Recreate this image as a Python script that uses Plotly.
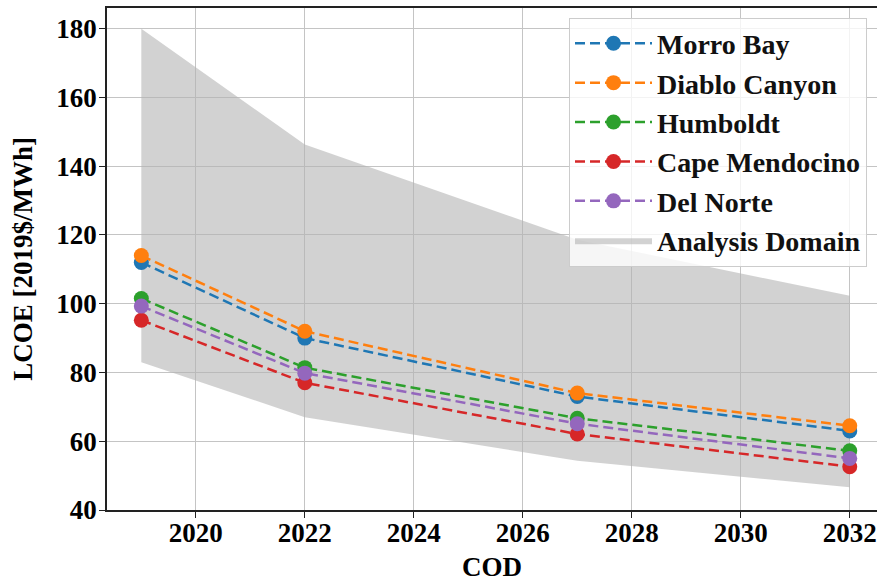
import plotly.graph_objects as go

years = [2019, 2022, 2027, 2032]

morro_bay = [112, 90, 73, 63]
diablo_canyon = [114, 92, 74, 64.5]
humboldt = [101.5, 81.4, 66.7, 57.2]
cape_mendocino = [95.2, 77, 62.1, 52.6]
del_norte = [99.3, 79.8, 65.1, 55]

domain_upper = [180, 146.3, 118.6, 102.3]
domain_lower = [83, 67, 54.3, 46.6]

series_names = ["Morro Bay", "Diablo Canyon", "Humboldt", "Cape Mendocino", "Del Norte"]
series_values = [morro_bay, diablo_canyon, humboldt, cape_mendocino, del_norte]
series_colors = ["#1f77b4", "#ff7f0e", "#2ca02c", "#d62728", "#9467bd"]

y_ticks = [40, 60, 80, 100, 120, 140, 160, 180]
x_ticks = [2020, 2022, 2024, 2026, 2028, 2030, 2032]

FONT = "Liberation Serif, Times New Roman, serif"

fig = go.Figure()

fig.add_trace(go.Scatter(
    x=years, y=domain_lower, mode="lines", line=dict(width=0),
    showlegend=False, hoverinfo="skip", legendgroup="domain"))
fig.add_trace(go.Scatter(
    x=years, y=domain_upper, mode="lines", line=dict(width=0),
    fill="tonexty", fillcolor="rgba(180,180,180,0.6)",
    name="Analysis Domain", legendrank=2000, hoverinfo="skip",
    legendgroup="domain"))

for i, (name, vals, col) in enumerate(zip(series_names, series_values, series_colors)):
    fig.add_trace(go.Scatter(
        x=years, y=vals, mode="lines+markers", name=name,
        line=dict(color=col, width=2.5, dash="10px,5px"),
        marker=dict(color=col, size=15),
        legendrank=1000 + i, legendgroup=name))

# figure is 8px wider than the window: the plot's right edge is cut off as in the reference
fig.update_layout(
    width=885, height=584,
    margin=dict(l=107, r=8, t=8, b=74),
    paper_bgcolor="white", plot_bgcolor="white",
    font=dict(family=FONT, size=27, color="black"),
    showlegend=True,
    legend=dict(
        x=0.6, y=0.981, xanchor="left", yanchor="top",
        bgcolor="rgba(255,255,255,0.8)", bordercolor="#cccccc", borderwidth=1,
        font=dict(family=FONT, size=28, color="#111111", weight="bold"),
        itemwidth=77, traceorder="grouped", tracegroupgap=0,
    ),
)

fig.update_xaxes(
    range=[2018.37, 2032.5], automargin=False,
    tickvals=x_ticks, ticktext=[str(t) for t in x_ticks],
    tickfont=dict(family=FONT, size=27, weight="bold"),
    ticklabelstandoff=-8,
    showgrid=True, gridcolor="#c4c4c4", gridwidth=1.2,
    showline=True, linecolor="#222222", linewidth=1.5, mirror=True,
    ticks="outside", ticklen=6, tickcolor="#222222",
    zeroline=False,
    title=dict(text="COD", font=dict(family=FONT, size=27, weight="bold"), standoff=10),
)
fig.update_yaxes(
    range=[40, 186], automargin=False,
    tickvals=y_ticks, ticktext=[str(t) for t in y_ticks],
    tickfont=dict(family=FONT, size=27, weight="bold"),
    ticklabelstandoff=-3,
    showgrid=True, gridcolor="#c4c4c4", gridwidth=1.2,
    showline=True, linecolor="#222222", linewidth=1.5,
    ticks="outside", ticklen=6, tickcolor="#222222",
    zeroline=False,
    title=dict(text="LCOE [2019$/MWh]", font=dict(family=FONT, size=27, weight="bold"), standoff=16),
)

fig.write_html(
    "out.html",
    config={"displayModeBar": False},
    post_script="document.body.style.margin='0';document.body.style.overflow='hidden';",
)
